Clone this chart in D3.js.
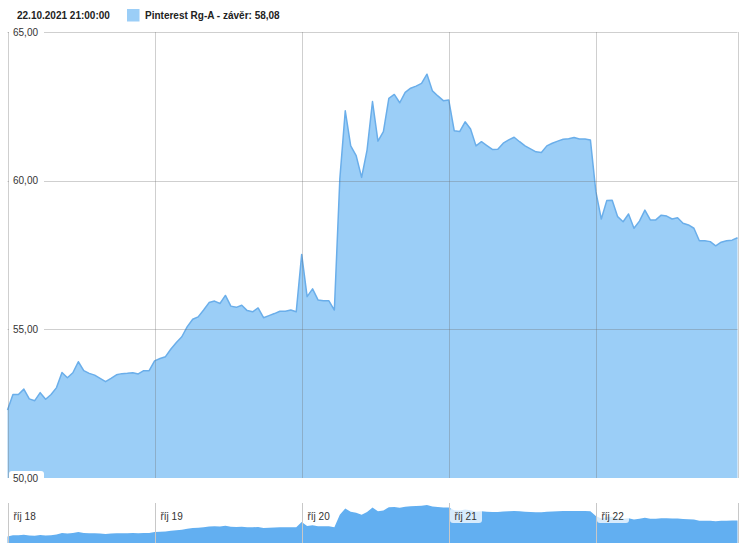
<!DOCTYPE html>
<html>
<head>
<meta charset="utf-8">
<script src="https://cdn.jsdelivr.net/npm/d3@7"></script>
<style>
  html, body { margin: 0; padding: 0; background: #fff; }
  svg { display: block; font-family: "Liberation Sans", Arial, sans-serif; }
</style>
</head>
<body>
<svg id="chart" width="752" height="551"></svg>
<script>
// ---- data ----
const headerDate = "22.10.2021 21:00:00";
const seriesName = "Pinterest Rg-A - závěr";
const dayLabels = ["říj 18", "říj 19", "říj 20", "říj 21", "říj 22"];
const oct18 = [52.29, 52.81, 52.81, 52.99, 52.66, 52.60, 52.87, 52.65, 52.81, 53.04, 53.55, 53.37, 53.54, 53.91, 53.61, 53.52, 53.46, 53.35, 53.24, 53.35, 53.47, 53.51, 53.52, 53.54, 53.50, 53.61, 53.61];
const oct19 = [53.94, 54.02, 54.08, 54.34, 54.56, 54.75, 55.09, 55.34, 55.42, 55.65, 55.90, 55.95, 55.87, 56.14, 55.78, 55.74, 55.81, 55.63, 55.59, 55.72, 55.39, 55.46, 55.53, 55.61, 55.61, 55.65, 55.59];
const oct20 = [57.52, 56.10, 56.36, 55.99, 55.96, 55.96, 55.65, 60.05, 62.35, 61.17, 60.84, 60.11, 61.03, 62.66, 61.33, 61.65, 62.77, 62.90, 62.62, 62.97, 63.11, 63.18, 63.27, 63.58, 63.02, 62.85, 62.69];
const oct21 = [62.71, 61.68, 61.65, 61.98, 61.74, 61.17, 61.31, 61.18, 61.05, 61.06, 61.26, 61.37, 61.46, 61.31, 61.17, 61.07, 60.97, 60.95, 61.17, 61.26, 61.33, 61.39, 61.41, 61.45, 61.40, 61.40, 61.37];
const oct22 = [59.63, 58.71, 59.33, 59.34, 58.79, 58.62, 58.88, 58.40, 58.64, 59.01, 58.68, 58.68, 58.84, 58.81, 58.71, 58.75, 58.57, 58.51, 58.40, 57.98, 57.98, 57.95, 57.81, 57.93, 57.98, 58.00, 58.08];
const yTicks = [50, 55, 60, 65];
const yTickLabels = ["50,00", "55,00", "60,00", "65,00"];

// ---- build points ----
const days = [oct18, oct19, oct20, oct21, oct22];
const points = [];
const dayStarts = [];
days.forEach((vals, d) => {
  dayStarts.push(points.length);
  vals.forEach(v => points.push({ i: points.length, v }));
});
const lastVal = points[points.length - 1].v;

// ---- layout ----
const svg = d3.select("#chart");
const left = 7.5, right = 737.5;
const mainTop = 32, mainBottom = 478;
const navTop = 503, navBottom = 543;

const x = d3.scaleLinear().domain([0, points.length - 1]).range([left, right]);
const y = d3.scaleLinear().domain([50, 65]).range([mainBottom, mainTop]);
const yNav = d3.scaleLinear().domain([50, 65]).range([navBottom, 501]);

const fillColor = "#9bcef7";
const strokeColor = "#6aaeea";
const navColor = "#62aff1";
const gridColor = "rgba(110,110,110,0.33)";

// main area
const area = d3.area().x(d => x(d.i)).y0(mainBottom).y1(d => y(d.v));
const line = d3.line().x(d => x(d.i)).y(d => y(d.v));
svg.append("path").datum(points).attr("d", area).attr("fill", fillColor);
svg.append("path").datum(points).attr("d", line)
  .attr("fill", "none").attr("stroke", strokeColor).attr("stroke-width", 1.5)
  .attr("stroke-linejoin", "round");

// grid: horizontal
svg.append("g").selectAll("line").data(yTicks.filter(t => t > 50)).join("line")
  .attr("x1", left).attr("x2", right)
  .attr("y1", d => Math.round(y(d)) + 0.5).attr("y2", d => Math.round(y(d)) + 0.5)
  .attr("stroke", gridColor).attr("stroke-width", 1);

// grid: vertical at day starts + edges
const vLines = [left, ...dayStarts.slice(1).map(i => x(i)), right];
svg.append("g").selectAll("line").data(vLines).join("line")
  .attr("x1", d => Math.round(d) + 0.5).attr("x2", d => Math.round(d) + 0.5)
  .attr("y1", mainTop).attr("y2", mainBottom)
  .attr("stroke", gridColor).attr("stroke-width", 1);

// y tick labels with white boxes
const yl = svg.append("g");
yTicks.forEach((t, k) => {
  const yy = y(t);
  yl.append("rect").attr("x", 9).attr("y", yy - 7).attr("width", 35).attr("height", 14)
    .attr("rx", 3).attr("fill", "#fff");
  yl.append("text").attr("x", 13).attr("y", yy).attr("dy", "0.35em")
    .attr("font-size", 10).attr("fill", "#333").text(yTickLabels[k]);
});

// ---- navigator ----
const navArea = d3.area().x(d => x(d.i)).y0(navBottom).y1(d => yNav(d.v));
svg.append("path").datum(points).attr("d", navArea).attr("fill", navColor);
svg.append("g").selectAll("line").data(vLines).join("line")
  .attr("x1", d => Math.round(d) + 0.5).attr("x2", d => Math.round(d) + 0.5)
  .attr("y1", navTop).attr("y2", navBottom)
  .attr("stroke", "#c8c8c8").attr("stroke-width", 1);

const navStarts = [left, ...dayStarts.slice(1).map(i => x(i))];
const nl = svg.append("g");
dayLabels.forEach((lab, k) => {
  const bx = Math.round(navStarts[k]) + 1;
  nl.append("rect").attr("x", bx).attr("y", 508).attr("width", 32).attr("height", 15)
    .attr("rx", 3).attr("fill", "rgba(255,255,255,0.75)");
  nl.append("text").attr("x", bx + 4.5).attr("y", 519.5)
    .attr("font-size", 10).attr("fill", "#333").text(lab);
});

// ---- header ----
svg.append("text").attr("x", 17).attr("y", 18.5)
  .attr("font-size", 10).attr("font-weight", "bold").attr("fill", "#222").text(headerDate);
svg.append("rect").attr("x", 127).attr("y", 9).attr("width", 12.5).attr("height", 12.5)
  .attr("fill", fillColor);
svg.append("text").attr("x", 145).attr("y", 19)
  .attr("font-size", 10).attr("font-weight", "bold").attr("fill", "#222")
  .text(seriesName + ": " + d3.format(".2f")(lastVal).replace(".", ","));
</script>
</body>
</html>
